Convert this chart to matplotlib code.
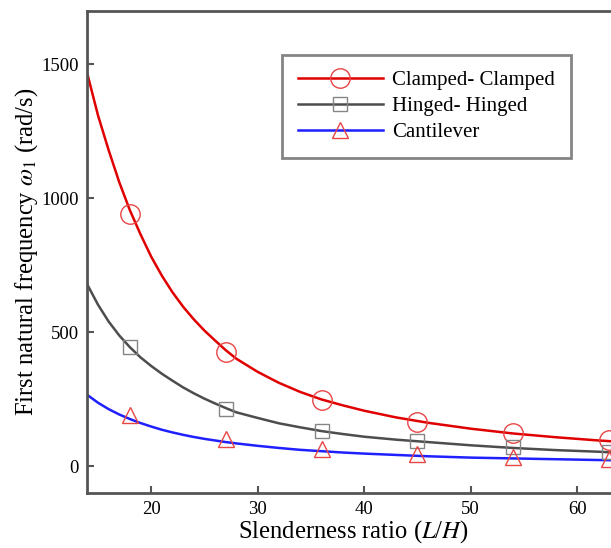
import numpy as np
import matplotlib
matplotlib.use("Agg")
import matplotlib.pyplot as plt

plt.rcParams['font.family'] = ['Liberation Serif', 'DejaVu Serif']
plt.rcParams['mathtext.fontset'] = 'stix'

# curves (slenderness ratio, frequency)
curve_x = [14, 15, 16, 17, 18, 19, 20, 21, 22, 23, 24, 25, 26, 27, 28,
           30, 32, 34, 36, 38, 40, 43, 46, 50, 54, 58, 62, 64]
cc_y = [1465, 1310, 1180, 1060, 955, 865, 782, 711, 649, 595, 548, 506, 469, 433, 401,
        352, 311, 277, 249, 227, 207, 182, 162, 140, 122, 108, 96, 91]
hh_y = [678, 603, 540, 488, 444, 406, 374, 345, 319, 294, 272, 252, 234, 217, 201,
        180, 160, 145, 131, 120, 110, 99, 90, 78, 68, 60, 54, 50]
cl_y = [266, 237, 213, 193, 176, 161, 148, 136, 126, 117, 109, 102, 96, 90, 85,
        76, 68, 61, 56, 51, 47, 42, 37, 32, 29, 26, 23, 22]

# marker points
mk_x = [18, 27, 36, 45, 54, 63]
cc_pts = [940, 428, 247, 166, 125, 97]
hh_pts = [444, 213, 131, 94, 70, 52]
cl_pts = [191, 100, 66, 47, 36, 25]

fig = plt.figure(figsize=(6.11, 5.48), dpi=100)
ax = fig.add_axes([0.1429, 0.1004, 0.8715, 0.880])

red = '#e00000'
mred = '#e84545'
gray = '#4d4d4d'
mgray = '#858585'
blue = '#1f1fff'
lw = 1.8

ax.plot(curve_x, cc_y, color=red, lw=lw, solid_joinstyle='round')
ax.plot(curve_x, hh_y, color=gray, lw=lw, solid_joinstyle='round')
ax.plot(curve_x, cl_y, color=blue, lw=lw, solid_joinstyle='round')
ax.plot(mk_x, cc_pts, 'o', ms=14, mfc='none', mec=mred, mew=1.0)
ax.plot(mk_x, hh_pts, 's', ms=9.5, mfc='none', mec=mgray, mew=1.0)
ax.plot(mk_x, cl_pts, '^', ms=11, mfc='none', mec=mred, mew=1.0)

# legend handles (line + marker)
h1, = ax.plot([], [], color=red, lw=lw, marker='o', ms=14, mfc='none', mec=mred, mew=1.0)
h2, = ax.plot([], [], color=gray, lw=lw, marker='s', ms=9.5, mfc='none', mec=mgray, mew=1.0)
h3, = ax.plot([], [], color=blue, lw=lw, marker='^', ms=11, mfc='none', mec=mred, mew=1.0)
leg = ax.legend([h1, h2, h3], ['Clamped- Clamped', 'Hinged- Hinged', 'Cantilever'],
                loc='upper left', bbox_to_anchor=(0.3656, 0.908), borderaxespad=0,
                fontsize=15, handlelength=4.1, handletextpad=0.45, labelspacing=0.3,
                borderpad=0.75, fancybox=False, numpoints=1)
leg.get_frame().set_edgecolor('#666666')
leg.get_frame().set_linewidth(2.0)

ax.set_xlim(14, 64)
ax.set_ylim(-100, 1700)
ax.set_xticks([20, 30, 40, 50, 60])
ax.set_yticks([0, 500, 1000, 1500])
ax.tick_params(direction='in', length=5, width=1.5, color='#555555', labelsize=13.5, pad=6)
for s in ['left', 'bottom', 'top']:
    ax.spines[s].set_color('#555555')
    ax.spines[s].set_linewidth(2.0)
ax.spines['right'].set_visible(False)

ax.set_xlabel('Slenderness ratio ($L$/$H$)', fontsize=17.7, labelpad=0)
ax.set_ylabel('First natural frequency $\\omega_1$ (rad/s)', fontsize=17.7, labelpad=1)

fig.savefig('out.png', dpi=100)
